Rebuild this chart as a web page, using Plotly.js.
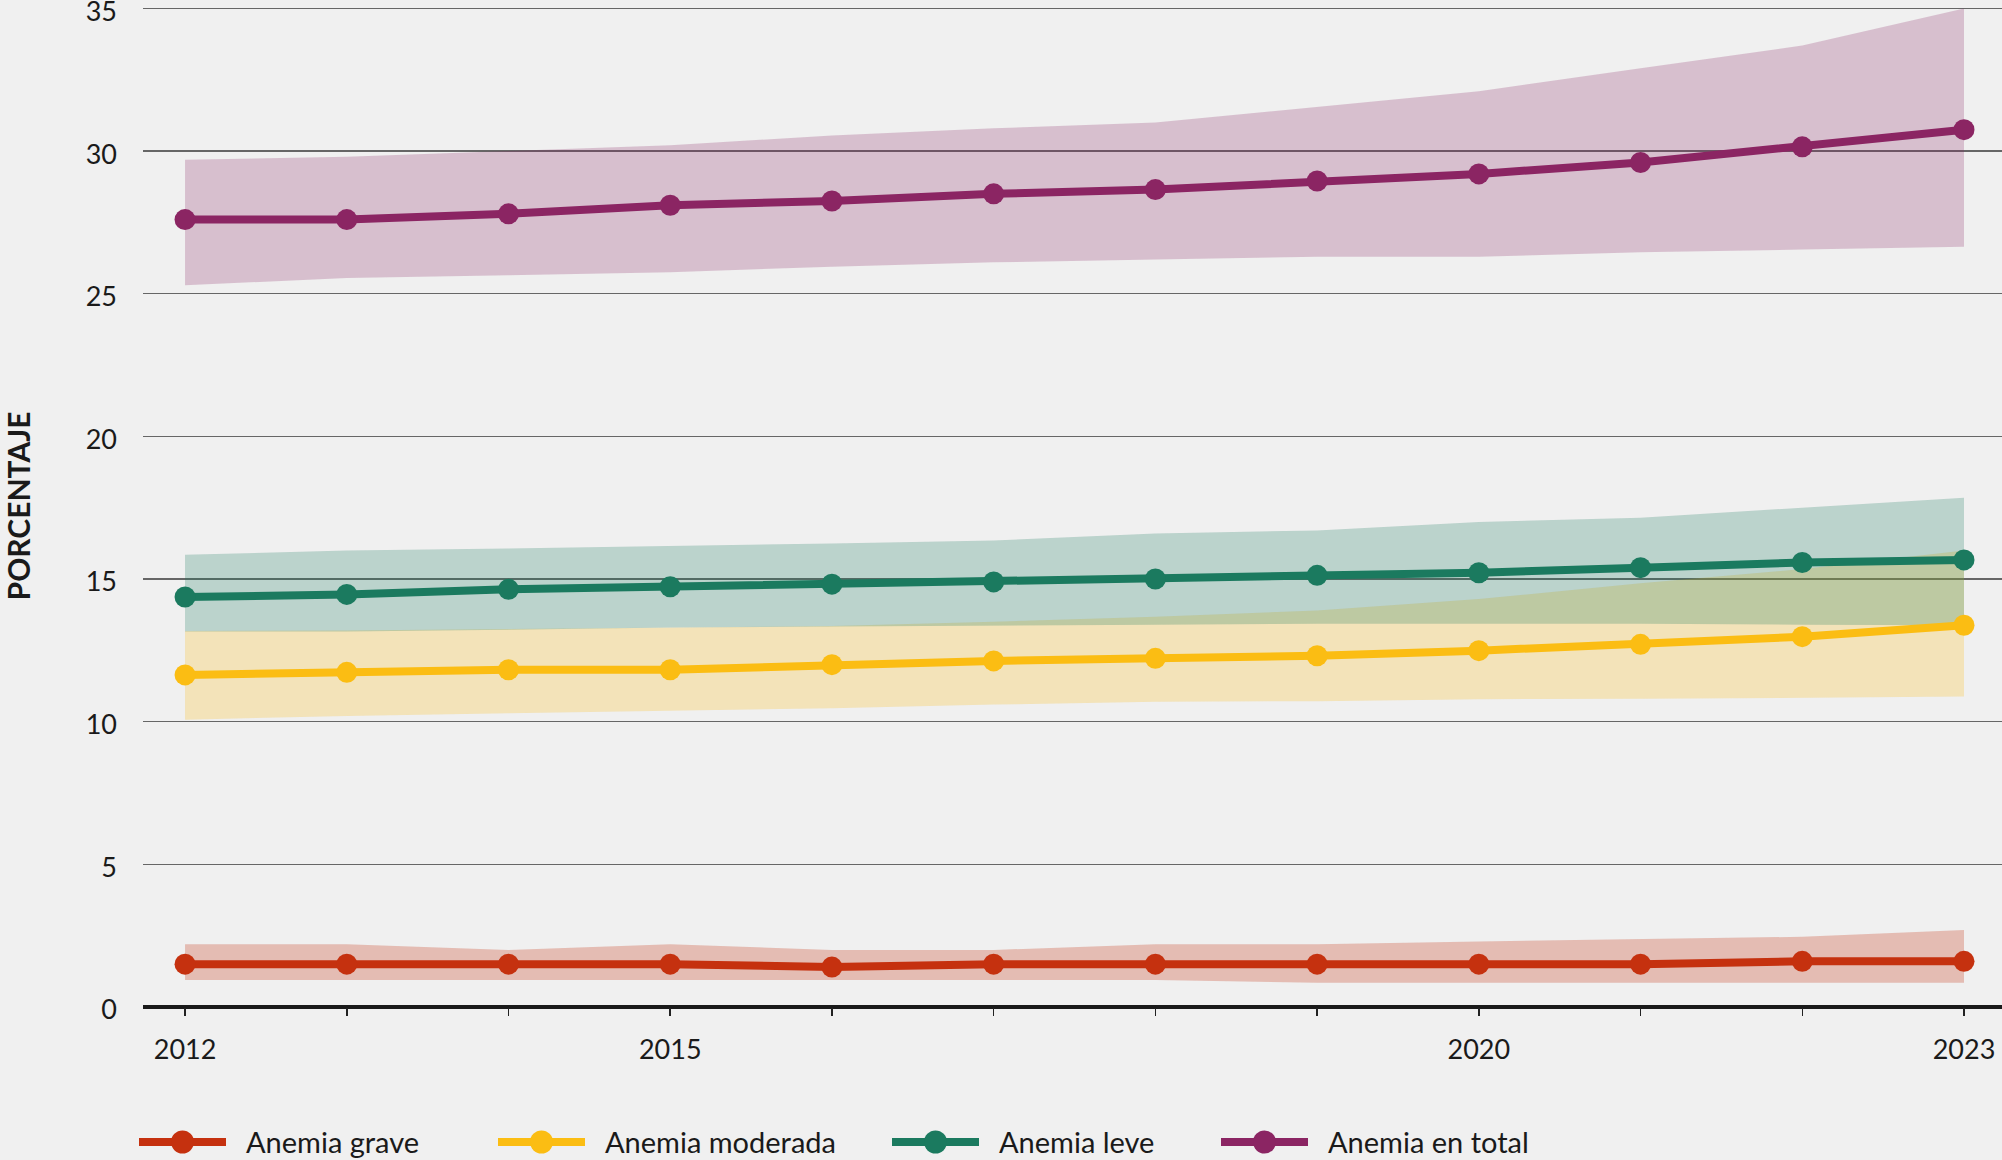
<!DOCTYPE html>
<html>
<head>
<meta charset="utf-8">
<script src="https://cdn.plot.ly/plotly-3.0.1.min.js"></script>
<style>
  html, body { margin: 0; padding: 0; background: #f0f0f0; }
  #chart { width: 2002px; height: 1160px; }
</style>
</head>
<body>
<div id="chart"></div>
<script>
// ---- Data ----
const years = [2012, 2013, 2014, 2015, 2016, 2017, 2018, 2019, 2020, 2021, 2022, 2023];
const xTickText = ['2012', '', '', '2015', '', '', '', '', '2020', '', '', '2023'];
const yTickVals = [0, 5, 10, 15, 20, 25, 30, 35];

const seriesNames = ['Anemia grave', 'Anemia moderada', 'Anemia leve', 'Anemia en total'];

const grave      = [1.5, 1.5, 1.5, 1.5, 1.4, 1.5, 1.5, 1.5, 1.5, 1.5, 1.6, 1.6];
const graveLow   = [0.95, 0.95, 0.95, 0.95, 0.95, 0.95, 0.95, 0.85, 0.85, 0.85, 0.85, 0.85];
const graveHigh  = [2.2, 2.2, 2.0, 2.2, 2.0, 2.0, 2.2, 2.2, 2.3, 2.37, 2.46, 2.7];

const moderada     = [11.64, 11.73, 11.82, 11.82, 12.0, 12.13, 12.22, 12.31, 12.49, 12.71, 12.98, 13.38];
const moderadaLow  = [10.07, 10.2, 10.3, 10.38, 10.47, 10.6, 10.7, 10.72, 10.79, 10.8, 10.83, 10.88];
const moderadaHigh = [13.18, 13.2, 13.25, 13.3, 13.35, 13.5, 13.68, 13.9, 14.3, 14.85, 15.35, 16.0];

const leve     = [14.37, 14.46, 14.64, 14.73, 14.82, 14.9, 15.0, 15.13, 15.22, 15.4, 15.58, 15.67];
const leveLow  = [13.16, 13.16, 13.22, 13.3, 13.34, 13.38, 13.4, 13.43, 13.43, 13.43, 13.4, 13.38];
const leveHigh = [15.85, 16.0, 16.07, 16.15, 16.25, 16.35, 16.6, 16.7, 17.0, 17.15, 17.5, 17.85];

const total     = [27.6, 27.6, 27.8, 28.1, 28.25, 28.5, 28.65, 28.95, 29.2, 29.6, 30.15, 30.75];
const totalLow  = [25.3, 25.55, 25.65, 25.75, 25.95, 26.1, 26.2, 26.3, 26.3, 26.45, 26.55, 26.65];
const totalHigh = [29.7, 29.8, 30.0, 30.2, 30.55, 30.8, 31.0, 31.55, 32.1, 32.9, 33.7, 35.0];

// ---- Styles ----
const lineColors = ['#c5310f', '#fbbd13', '#1b7a5f', '#8b2563'];
const bandColors = ['rgba(197,49,15,0.27)', 'rgba(251,189,19,0.25)', 'rgba(27,122,95,0.25)', 'rgba(139,37,99,0.24)'];
const FONT = "Lato, 'DejaVu Sans Condensed', sans-serif";

const series = [
  { name: seriesNames[0], v: grave,    lo: graveLow,    hi: graveHigh },
  { name: seriesNames[1], v: moderada, lo: moderadaLow, hi: moderadaHigh },
  { name: seriesNames[2], v: leve,     lo: leveLow,     hi: leveHigh },
  { name: seriesNames[3], v: total,    lo: totalLow,    hi: totalHigh }
];

const traces = [];
// uncertainty bands
series.forEach((s, i) => {
  traces.push({ x: years, y: s.lo, type: 'scatter', mode: 'lines', line: { width: 0, color: 'rgba(0,0,0,0)' },
                hoverinfo: 'skip', showlegend: false });
  traces.push({ x: years, y: s.hi, type: 'scatter', mode: 'lines', line: { width: 0, color: 'rgba(0,0,0,0)' },
                fill: 'tonexty', fillcolor: bandColors[i], hoverinfo: 'skip', showlegend: false });
});
// main lines
series.forEach((s, i) => {
  traces.push({ x: years, y: s.v, name: s.name, type: 'scatter', mode: 'lines+markers',
                line: { color: lineColors[i], width: 8 },
                marker: { color: lineColors[i], size: 21 }, showlegend: false });
});

// ---- Custom legend (layout decoration) ----
const PL = 143, PW = 2002 - 143, PT = 5, PH = 1007 - 5;
const px2x = p => (p - PL) / PW;
const px2y = p => (PT + PH - p) / PH;
const legendStart = [139, 498, 892, 1221];
const legendY = 1142, symLen = 87, dotR = 11.5, textGap = 105;
const shapes = [], annotations = [];
series.forEach((s, i) => {
  const x0 = legendStart[i];
  shapes.push({ type: 'line', xref: 'paper', yref: 'paper', x0: px2x(x0), x1: px2x(x0 + symLen),
                y0: px2y(legendY), y1: px2y(legendY), line: { color: lineColors[i], width: 8 } });
  shapes.push({ type: 'circle', xref: 'paper', yref: 'paper',
                x0: px2x(x0 + symLen / 2 - dotR), x1: px2x(x0 + symLen / 2 + dotR),
                y0: px2y(legendY + dotR), y1: px2y(legendY - dotR),
                fillcolor: lineColors[i], line: { width: 0 } });
  annotations.push({ xref: 'paper', yref: 'paper', x: px2x(x0 + textGap), y: px2y(legendY - 1),
                     xanchor: 'left', yanchor: 'middle', text: s.name, showarrow: false,
                     font: { family: FONT, size: 29, color: '#1a1a1a' } });
});

const layout = {
  width: 2002, height: 1160,
  paper_bgcolor: '#f0f0f0', plot_bgcolor: '#f0f0f0',
  margin: { l: PL, r: 0, t: PT, b: 1160 - 1007, pad: 0 },
  showlegend: false,
  font: { family: FONT, size: 27, color: '#1a1a1a' },
  xaxis: {
    range: [2011.74, 2023.235], tickmode: 'array', tickvals: years, ticktext: xTickText,
    ticks: 'outside', ticklen: 8, tickwidth: 1.5, tickcolor: '#222',
    showgrid: false, zeroline: false, showline: false, ticklabelstandoff: 11,
    tickfont: { family: FONT, size: 27, color: '#1a1a1a' }
  },
  yaxis: {
    range: [0, 35.12], tickmode: 'array', tickvals: yTickVals,
    showgrid: true, gridcolor: '#666666', gridwidth: 1.3,
    zeroline: true, zerolinecolor: '#1a1a1a', zerolinewidth: 4,
    ticks: '', ticklabelstandoff: 25, ticklabelshift: 3, showline: false, ticklabeloverflow: 'allow',
    tickfont: { family: FONT, size: 27, color: '#1a1a1a' },
    title: { text: 'PORCENTAJE', standoff: 74, font: { family: FONT, size: 30, weight: 'bold', color: '#1a1a1a' } }
  },
  shapes: shapes,
  annotations: annotations
};

Plotly.newPlot('chart', traces, layout, { displayModeBar: false, staticPlot: true });
</script>
</body>
</html>
